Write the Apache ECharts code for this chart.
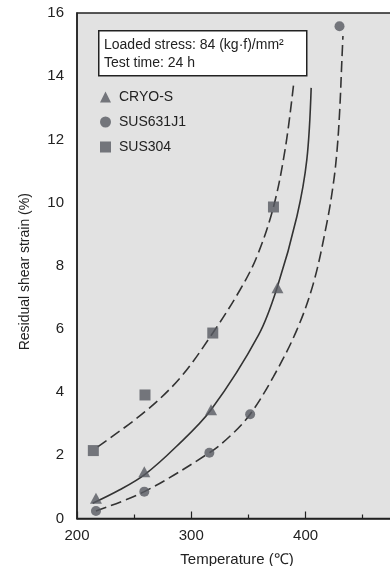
<!DOCTYPE html>
<html>
<head>
<meta charset="utf-8">
<script src="https://cdn.jsdelivr.net/npm/echarts@6/dist/echarts.min.js"></script>
<style>
html,body{margin:0;padding:0;background:#fff;}
#c{width:390px;height:566px;}
</style>
</head>
<body>
<div id="c"></div>
<script>
// Measured points
var cryoX = [216.6, 258.9, 317.3, 375.4];
var cryoY = [0.64, 1.48, 3.44, 7.3];
var susJX = [216.6, 258.9, 315.8, 351.5, 429.7];
var susJY = [0.24, 0.85, 2.08, 3.3, 15.58];
var sus304X = [214.3, 259.5, 318.8, 371.9];
var sus304Y = [2.15, 3.91, 5.87, 9.86];

// Fitted curves
var cryoCurveX = [213.7, 237.0, 258.9, 286.7, 317.3, 358.9, 375.4, 392.4, 401.1, 404.9];
var cryoCurveY = [0.48, 0.90, 1.38, 2.27, 3.44, 5.81, 7.34, 9.56, 11.36, 13.63];
var susJCurveX = [216.6, 258.9, 315.8, 334.0, 351.5, 371.9, 392.4, 406.9, 418.6, 424.4, 427.6, 429.9, 431.8, 432.7];
var susJCurveY = [0.24, 0.85, 2.08, 2.61, 3.30, 4.49, 5.97, 7.45, 9.35, 10.62, 11.68, 12.94, 14.53, 15.27];
var s304CurveX = [218.1, 259.5, 290.2, 318.8, 342.7, 357.4, 371.9, 382.1, 389.4];
var s304CurveY = [2.27, 3.38, 4.45, 5.87, 7.24, 8.29, 9.86, 11.68, 13.70];

var xTicks = [200, 300, 400];
var yTicks = [0, 2, 4, 6, 8, 10, 12, 14, 16];
var names = ['CRYO-S', 'SUS631J1', 'SUS304'];
var boxLines = ['Loaded stress: 84 (kg\u00b7f)/mm\u00b2', 'Test time: 24 h'];

function zip(a, b) { return a.map(function (v, i) { return [v, b[i]]; }); }

var markColor = '#585a62';
var lineColor = '#333333';
var font = 'Liberation Sans, Arial, sans-serif';

var chart = echarts.init(document.getElementById('c'), null, {renderer: 'canvas'});
chart.setOption({
  animation: false,
  backgroundColor: '#ffffff',
  grid: {
    left: 77, top: 13, width: 320, bottom: 47.5,
    outerBoundsMode: 'none', containLabel: false,
    show: true, backgroundColor: '#e2e2e2', borderColor: '#222', borderWidth: 1.5
  },
  legend: {
    orient: 'vertical', left: 100, top: 90, padding: 0,
    itemWidth: 11, itemHeight: 11, itemGap: 11,
    data: names,
    textStyle: {fontFamily: font, fontSize: 14, lineHeight: 14, color: '#222', padding: [0, 0, 0, 3]}
  },
  xAxis: {
    type: 'value', min: 200, max: 480, interval: 100,
    name: 'Temperature (\u2103)', nameLocation: 'middle', nameGap: 34,
    nameTextStyle: {fontFamily: font, fontSize: 15, color: '#222'},
    axisLine: {show: true, lineStyle: {color: '#222', width: 1.5}},
    axisTick: {show: true, inside: true, length: 7, lineStyle: {color: '#222', width: 1.2}},
    minorTick: {show: true, splitNumber: 2, length: 4, lineStyle: {color: '#222', width: 1.2}},
    axisLabel: {
      fontFamily: font, fontSize: 15, color: '#222', margin: 10, showMaxLabel: false,
      formatter: function (v) { return xTicks.indexOf(v) >= 0 ? String(v) : ''; }
    },
    splitLine: {show: false}
  },
  yAxis: {
    type: 'value', min: 0, max: 16, interval: 2,
    name: 'Residual shear strain (%)', nameLocation: 'middle', nameGap: 45,
    nameTextStyle: {fontFamily: font, fontSize: 14, color: '#222', padding: [0, 12, 0, 0]},
    axisLine: {show: true, lineStyle: {color: '#222', width: 1.5}},
    axisTick: {show: false},
    axisLabel: {
      fontFamily: font, fontSize: 15, color: '#222', margin: 13,
      formatter: function (v) { return yTicks.indexOf(v) >= 0 ? String(v) : ''; }
    },
    splitLine: {show: false}
  },
  graphic: [
    {type: 'rect', left: 98, top: 30, shape: {width: 208, height: 45},
     style: {fill: '#ffffff', stroke: '#222', lineWidth: 1.5}, z: 10},
    {type: 'text', left: 104, top: 38.5, z: 11,
     style: {text: boxLines[0], font: '14px ' + font, fill: '#222'}},
    {type: 'text', left: 104, top: 56, z: 11,
     style: {text: boxLines[1], font: '14px ' + font, fill: '#222'}}
  ],
  series: [
    {name: 'CRYO-S fit', type: 'line', data: zip(cryoCurveX, cryoCurveY), smooth: 0.35,
     showSymbol: false, lineStyle: {color: lineColor, width: 1.6}, z: 2},
    {name: 'SUS631J1 fit', type: 'line', data: zip(susJCurveX, susJCurveY), smooth: 0.35,
     showSymbol: false, lineStyle: {color: lineColor, width: 1.6, type: [11, 5]}, z: 2},
    {name: 'SUS304 fit', type: 'line', data: zip(s304CurveX, s304CurveY), smooth: 0.35,
     showSymbol: false, lineStyle: {color: lineColor, width: 1.6, type: [11, 5]}, z: 2},
    {name: 'CRYO-S', type: 'scatter', data: zip(cryoX, cryoY), symbol: 'triangle',
     symbolSize: [12, 11], itemStyle: {color: markColor}, z: 5},
    {name: 'SUS631J1', type: 'scatter', data: zip(susJX, susJY), symbol: 'circle',
     symbolSize: 10, itemStyle: {color: markColor}, z: 5},
    {name: 'SUS304', type: 'scatter', data: zip(sus304X, sus304Y), symbol: 'rect',
     symbolSize: 11, itemStyle: {color: markColor}, z: 5}
  ]
});
</script>
</body>
</html>
